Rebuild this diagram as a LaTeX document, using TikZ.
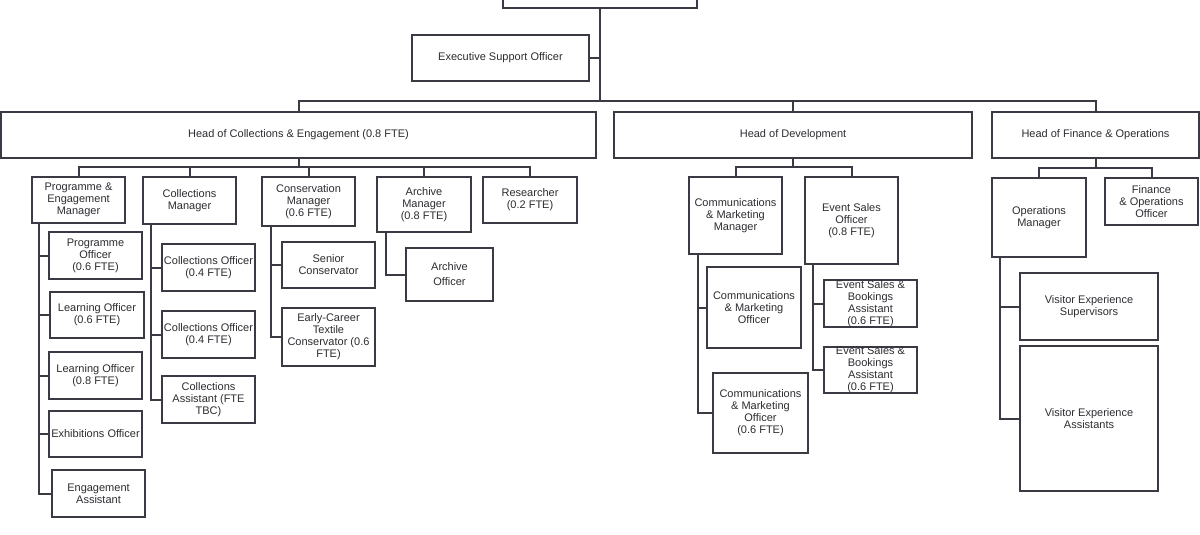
\documentclass[tikz,border=0pt]{standalone}
\usepackage{fontspec}
\setmainfont{Liberation Sans}
\definecolor{linec}{RGB}{58,58,68}
\definecolor{textc}{RGB}{45,45,50}
\newcommand\orgbox[6]{%
  \node[orgb, minimum width={(#4-#2)*1pt}, minimum height={(#5-#3)*1pt}]
    (#1) at ({(#2+#4)/2},{(#3+#5)/2}) {#6};}
\tikzset{
  orgb/.style={draw=linec, line width=1.3pt, fill=white, align=center,
    inner sep=0pt, text=textc, font=\fontsize{11}{12}\selectfont},
  conn/.style={draw=linec, line width=2pt, line cap=rect},
  tight/.style={font=\fontsize{11}{11.5}\selectfont}
}
\begin{document}
\begin{tikzpicture}[x=1pt,y=-1pt]
\useasboundingbox[fill=white] (0,0) rectangle (1200,535);
% connectors first (drawn under boxes)
\coordinate (bus) at (600,101);
\coordinate (cbus) at (297,167);
\coordinate (dbus) at (792,167);
\coordinate (fbus) at (1095,168);
% boxes
\orgbox{top}{503}{-10}{697}{8}{}
\orgbox{esup}{412}{35}{589}{81}{Executive Support Officer}
\orgbox{hce}{1}{112}{596}{158}{Head of Collections \& Engagement (0.8 FTE)}
\orgbox{hd}{614}{112}{972}{158}{Head of Development}
\orgbox{hf}{992}{112}{1199}{158}{Head of Finance \& Operations}
% collections row
\orgbox{pem}{32}{177}{125}{223}{Programme \&\\Engagement\\Manager}
\orgbox{cm}{143}{177}{236}{224}{Collections\\Manager}
\orgbox{cons}{262}{177}{355}{226}{Conservation\\Manager\\(0.6 FTE)}
\orgbox{am}{377}{177}{471}{232}{Archive\\Manager\\(0.8 FTE)}
\orgbox{res}{483}{177}{577}{223}{Researcher\\(0.2 FTE)}
% programme children
\orgbox{po}{49}{232}{142}{279}{Programme\\Officer\\(0.6 FTE)}
\orgbox{lo1}{50}{292}{144}{338}{Learning Officer\\(0.6 FTE)}
\orgbox{lo2}{49}{352}{142}{399}{Learning Officer\\(0.8 FTE)}
\orgbox{exo}{49}{411}{142}{457}{Exhibitions Officer}
\orgbox{ea}{52}{470}{145}{517}{Engagement\\Assistant}
% collections children
\orgbox{co1}{162}{244}{255}{291}{Collections Officer\\(0.4 FTE)}
\orgbox{co2}{162}{311}{255}{358}{Collections Officer\\(0.4 FTE)}
\orgbox{ca}{162}{376}{255}{423}{Collections\\Assistant (FTE\\TBC)}
% conservation children
\orgbox{sc}{282}{242}{375}{288}{Senior\\Conservator}
\orgbox{ec}{282}{308}{375}{366}{\fontsize{11}{11.5}\selectfont Early-Career\\Textile\\Conservator (0.6\\FTE)}
% archive child
\orgbox{ao}{406}{248}{493}{301}{Archive\\[3pt]Officer}
% development
\orgbox{cmm}{689}{177}{782}{254}{Communications\\\& Marketing\\Manager}
\orgbox{eso}{805}{177}{898}{264}{Event Sales\\Officer\\(0.8 FTE)}
\orgbox{cmo1}{707}{267}{801}{348}{Communications\\\& Marketing\\Officer}
\orgbox{cmo2}{713}{373}{808}{453}{\fontsize{11}{11.5}\selectfont Communications\\\& Marketing\\Officer\\(0.6 FTE)}
\orgbox{esa1}{824}{280}{917}{327}{\fontsize{11}{11.3}\selectfont Event Sales \&\\Bookings\\Assistant\\(0.6 FTE)}
\orgbox{esa2}{824}{347}{917}{393}{\fontsize{11}{11.3}\selectfont Event Sales \&\\Bookings\\Assistant\\(0.6 FTE)}
% finance
\orgbox{om}{992}{178}{1086}{257}{Operations\\Manager}
\orgbox{fo}{1105}{178}{1198}{225}{Finance\\\& Operations\\Officer}
\orgbox{ves}{1020}{273}{1158}{340}{Visitor Experience\\Supervisors}
\orgbox{vea}{1020}{346}{1158}{491}{Visitor Experience\\Assistants}
% connectors
\begin{scope}[on background layer/.style={}]
\end{scope}
\draw[conn] (top.south) -- (bus);
\draw[conn] (esup.east) -- (esup.east -| bus);
\draw[conn] (hce.north) -- (hce.north |- bus) -- (hf.north |- bus) -- (hf.north);
\draw[conn] (hd.north) -- (hd.north |- bus);
% collections sub-bus
\draw[conn] (hce.south) -- (hce.south |- cbus);
\draw[conn] (pem.north) -- (pem.north |- cbus) -- (res.north |- cbus) -- (res.north);
\draw[conn] (cm.north) -- (cm.north |- cbus);
\draw[conn] (cons.north) -- (cons.north |- cbus);
\draw[conn] (am.north) -- (am.north |- cbus);
% programme children
\foreach \c in {po,lo1,lo2,exo,ea}
  \draw[conn] ([xshift=8pt]pem.south west) |- (\c.west);
\foreach \c in {co1,co2,ca}
  \draw[conn] ([xshift=9pt]cm.south west) |- (\c.west);
\foreach \c in {sc,ec}
  \draw[conn] ([xshift=10pt]cons.south west) |- (\c.west);
\draw[conn] ([xshift=10pt]am.south west) |- (ao.west);
% development
\draw[conn] (hd.south) -- (hd.south |- dbus);
\draw[conn] (cmm.north) -- (cmm.north |- dbus) -- (eso.north |- dbus) -- (eso.north);
\foreach \c in {cmo1,cmo2}
  \draw[conn] ([xshift=10pt]cmm.south west) |- (\c.west);
\foreach \c in {esa1,esa2}
  \draw[conn] ([xshift=9pt]eso.south west) |- (\c.west);
% finance
\draw[conn] (hf.south) -- (hf.south |- fbus);
\draw[conn] (om.north) -- (om.north |- fbus) -- (fo.north |- fbus) -- (fo.north);
\foreach \c in {ves,vea}
  \draw[conn] ([xshift=9pt]om.south west) |- (\c.west);
\end{tikzpicture}
\end{document}
